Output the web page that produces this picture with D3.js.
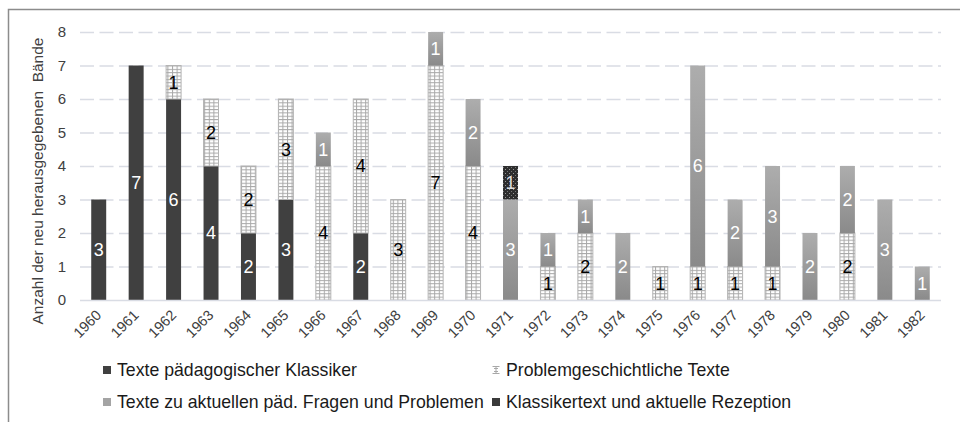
<!DOCTYPE html>
<html>
<head>
<meta charset="utf-8">
<script src="https://cdn.jsdelivr.net/npm/d3@7"></script>
<style>
  body { margin: 0; background: #fff; }
  text { font-family: "Liberation Sans", Arial, sans-serif; }
</style>
</head>
<body>
<div id="graph"></div>
<script>
// data
const years = ["1960","1961","1962","1963","1964","1965","1966","1967","1968","1969","1970","1971",
  "1972","1973","1974","1975","1976","1977","1978","1979","1980","1981","1982"];
const seriesNames = ["Texte pädagogischer Klassiker", "Problemgeschichtliche Texte",
  "Texte zu aktuellen päd. Fragen und Problemen", "Klassikertext und aktuelle Rezeption"];
const klassiker =   [3,7,6,4,2,3,0,2,0,0,0,0,0,0,0,0,0,0,0,0,0,0,0];
const problemgesch = [0,0,1,2,2,3,4,4,3,7,4,0,1,2,0,1,1,1,1,0,2,0,0];
const aktuell =     [0,0,0,0,0,0,1,0,0,1,2,3,1,1,2,0,6,2,3,2,2,3,1];
const rezeption =   [0,0,0,0,0,0,0,0,0,0,0,1,0,0,0,0,0,0,0,0,0,0,0];
const yTicks = [0,1,2,3,4,5,6,7,8];

const W = 960, H = 422;
const margin = { top: 32, right: 19, bottom: 122, left: 80 };
const width = W - margin.left - margin.right,
      height = H - margin.top - margin.bottom;

const svg = d3.select("#graph").append("svg")
  .attr("width", W).attr("height", H)
  .style("display", "block");

// frame of the chart area (runs off the right and bottom edge)
svg.append("rect")
  .attr("x", 8.5).attr("y", 9.5)
  .attr("width", W + 20).attr("height", H + 20)
  .attr("fill", "none").attr("stroke", "#8c8c8c").attr("stroke-width", 1.5);

const defs = svg.append("defs");
// grid pattern for Problemgeschichtliche Texte
const grid = defs.append("pattern")
  .attr("id", "grid").attr("patternUnits", "userSpaceOnUse")
  .attr("width", 4.6).attr("height", 3.35);
grid.append("rect").attr("width", 4.6).attr("height", 3.35).attr("fill", "#fff");
grid.append("line").attr("x1", 0).attr("x2", 4.6).attr("y1", 0.5).attr("y2", 0.5)
  .attr("stroke", "#a8a8a8").attr("stroke-width", 1);
grid.append("line").attr("x1", 0.5).attr("x2", 0.5).attr("y1", 0).attr("y2", 3.35)
  .attr("stroke", "#a8a8a8").attr("stroke-width", 1);

// gradient for aktuelle Fragen
const grad = defs.append("linearGradient")
  .attr("id", "grad").attr("x1", 0).attr("x2", 0).attr("y1", 0).attr("y2", 1);
grad.append("stop").attr("offset", "0%").attr("stop-color", "#adadad");
grad.append("stop").attr("offset", "100%").attr("stop-color", "#8a8a8a");

// dotted dark for Rezeption
const dots = defs.append("pattern")
  .attr("id", "dots").attr("patternUnits", "userSpaceOnUse")
  .attr("width", 4).attr("height", 4);
dots.append("rect").attr("width", 4).attr("height", 4).attr("fill", "#2e2e2e");
dots.append("rect").attr("x", 1).attr("y", 1).attr("width", 1).attr("height", 1).attr("fill", "#9a9a9a");
dots.append("rect").attr("x", 3).attr("y", 3).attr("width", 1).attr("height", 1).attr("fill", "#777");

const fills = ["#404040", "url(#grid)", "url(#grad)", "url(#dots)"];
const labelColors = ["#fff", "#000", "#fff", "#ddd"];

const g = svg.append("g")
  .attr("transform", "translate(" + margin.left + "," + margin.top + ")");

const x = d3.scaleBand().domain(years).range([0, width]).paddingInner(0.6).paddingOuter(0.3);
const y = d3.scaleLinear().domain([0, 8]).range([height, 0]);

// gridlines
g.selectAll(".grid")
  .data(yTicks.filter(d => d > 0))
  .enter().append("line")
  .attr("x1", 0).attr("x2", width)
  .attr("y1", d => y(d) + 0.5).attr("y2", d => y(d) + 0.5)
  .attr("stroke", "#d9dce4").attr("stroke-width", 1.5)
  .attr("stroke-dasharray", "14,5.5");

// y axis labels
const yAxis = g.append("g")
  .call(d3.axisLeft(y).tickValues(yTicks).tickSize(0).tickPadding(14));
yAxis.select(".domain").remove();
yAxis.selectAll("text")
  .style("font-family", "Liberation Sans, Arial, sans-serif")
  .style("font-size", "15px").attr("fill", "#404040");

// stacked data
const table = years.map((yr, i) => ({
  year: yr, s0: klassiker[i], s1: problemgesch[i], s2: aktuell[i], s3: rezeption[i]
}));
const stack = d3.stack().keys(["s0", "s1", "s2", "s3"]);
const layers = stack(table);

const layerG = g.selectAll(".layer")
  .data(layers).enter().append("g");

layerG.selectAll("rect")
  .data((d, i) => d.map(v => ({ v, i })).filter(o => o.v[1] - o.v[0] > 0))
  .enter().append("rect")
  .attr("x", d => x(d.v.data.year))
  .attr("y", d => y(d.v[1]))
  .attr("width", x.bandwidth())
  .attr("height", d => y(d.v[0]) - y(d.v[1]))
  .attr("fill", d => fills[d.i])
  .attr("stroke", d => d.i === 1 ? "#b4b4b4" : "none")
  .attr("stroke-width", 1);

layerG.selectAll("text")
  .data((d, i) => d.map(v => ({ v, i })).filter(o => o.v[1] - o.v[0] > 0))
  .enter().append("text")
  .attr("x", d => x(d.v.data.year) + x.bandwidth() / 2)
  .attr("y", d => (y(d.v[0]) + y(d.v[1])) / 2)
  .attr("dy", "0.36em")
  .attr("text-anchor", "middle")
  .style("font-size", "18px")
  .attr("fill", d => labelColors[d.i])
  .text(d => d.v[1] - d.v[0]);

// baseline
g.append("line")
  .attr("x1", 0).attr("x2", width)
  .attr("y1", height + 0.5).attr("y2", height + 0.5)
  .attr("stroke", "#d9dce4").attr("stroke-width", 1.5);

// x axis labels, rotated
const xAxis = g.append("g")
  .attr("transform", "translate(0," + height + ")")
  .call(d3.axisBottom(x).tickSize(0).tickPadding(0));
xAxis.select(".domain").remove();
xAxis.selectAll("text")
  .style("font-family", "Liberation Sans, Arial, sans-serif")
  .style("font-size", "14.5px").attr("fill", "#404040")
  .attr("text-anchor", "end")
  .attr("dy", 0).attr("y", 0).attr("x", 0)
  .attr("transform", "translate(3.5,16) rotate(-45)");

// y axis title
svg.append("text")
  .attr("transform", "translate(43,181) rotate(-90)")
  .attr("text-anchor", "middle")
  .style("font-size", "15.5px")
  .attr("fill", "#404040")
  .attr("xml:space", "preserve")
  .style("white-space", "pre")
  .text("Anzahl der neu herausgegebenen  Bände");

// legend
const legendPos = [[103, 370], [492, 370], [103, 402], [492, 402]];
const legend = svg.selectAll(".legend")
  .data(seriesNames).enter().append("g")
  .attr("transform", (d, i) => "translate(" + legendPos[i][0] + "," + legendPos[i][1] + ")");

legend.filter((d, i) => i !== 1).append("rect")
  .attr("x", 0).attr("y", -4).attr("width", 8).attr("height", 8)
  .attr("fill", (d, i) => ["#404040", "#a4a4a4", "#3a3a3a"][i]);
// grid marker: little I-beam
legend.filter((d, i) => i === 1).append("path")
  .attr("d", "M0.5,-3.5H7.5M0.5,3.5H7.5M4,-3.5V3.5M2,-1.5H6M2,1.5H6")
  .attr("stroke", "#a8a8a8").attr("fill", "none");

legend.append("text")
  .attr("x", 14)
  .attr("dy", "0.35em")
  .style("font-size", "17.7px")
  .attr("fill", "#1a1a1a")
  .text(d => d);
</script>
</body>
</html>
